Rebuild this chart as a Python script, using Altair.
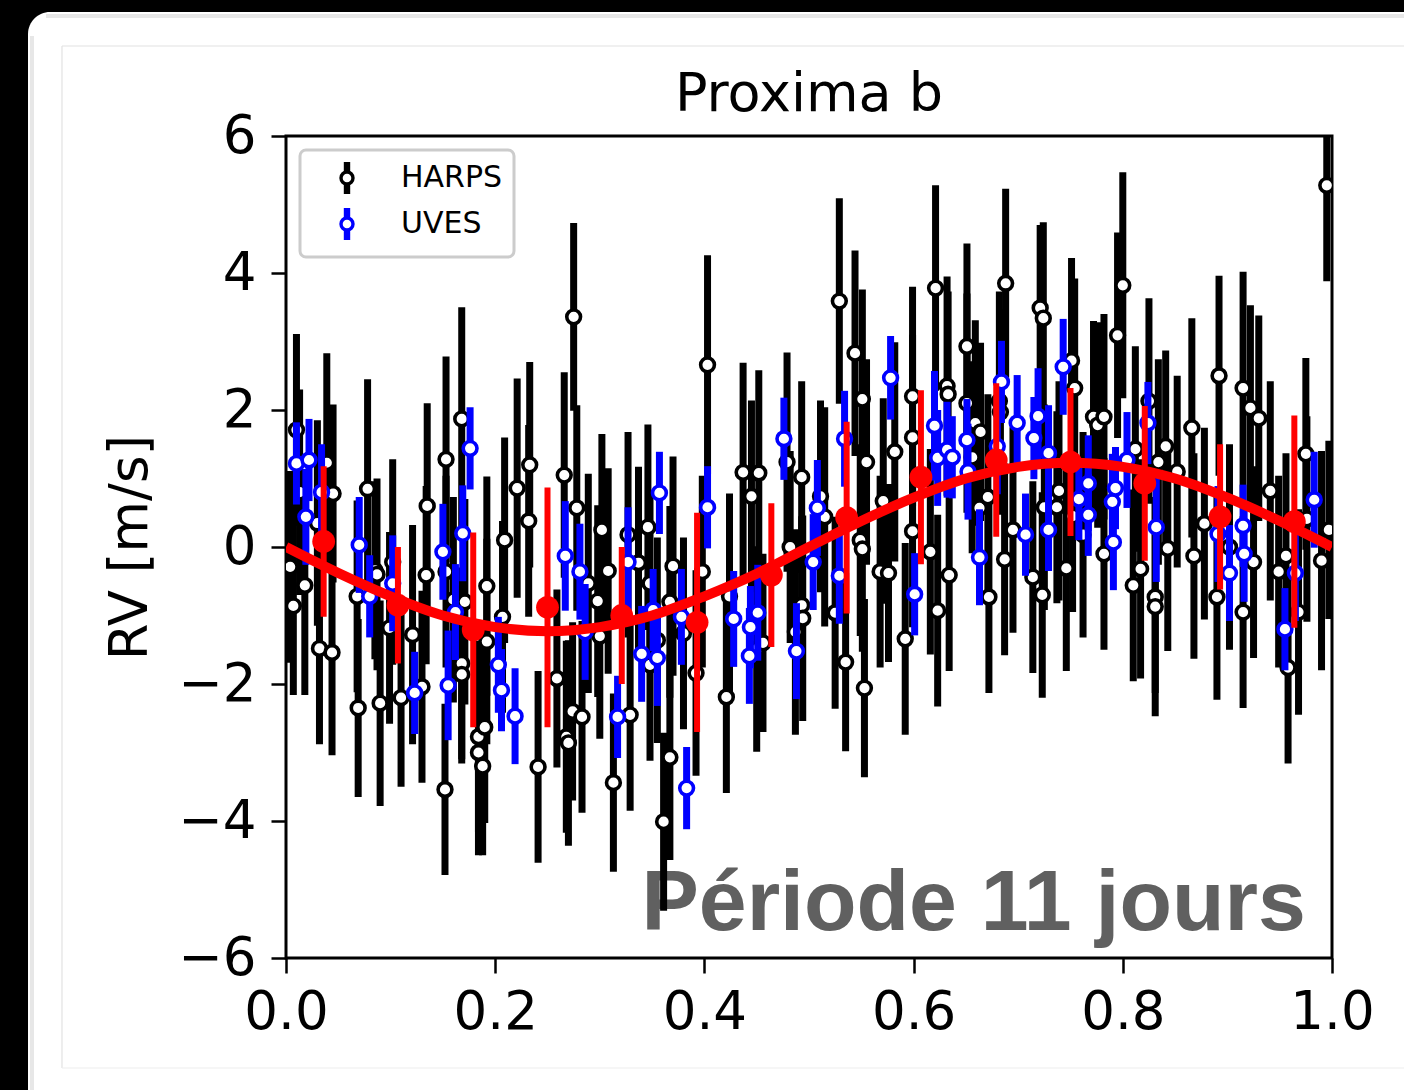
import altair as alt
import pandas as pd

# ---------------- data ----------------
harps_phase = [0.004, 0.007, 0.010, 0.013, 0.018, 0.030, 0.032, 0.039, 0.044, 0.045,
               0.068, 0.069, 0.078, 0.085, 0.087, 0.090, 0.099, 0.102, 0.110, 0.121,
               0.130, 0.134, 0.135, 0.152, 0.153, 0.153, 0.160, 0.168, 0.168, 0.168,
               0.171, 0.184, 0.184, 0.188, 0.190, 0.192, 0.192, 0.207, 0.209, 0.221,
               0.232, 0.233, 0.241, 0.259, 0.266, 0.268, 0.270, 0.274, 0.275, 0.278,
               0.283, 0.289, 0.298, 0.300, 0.302, 0.308, 0.313, 0.327, 0.329, 0.337,
               0.346, 0.348, 0.348, 0.355, 0.361, 0.367, 0.367, 0.370, 0.380, 0.392,
               0.398, 0.403, 0.421, 0.424, 0.437, 0.445, 0.450, 0.452, 0.456, 0.479,
               0.482, 0.487, 0.493, 0.493, 0.494, 0.511, 0.515, 0.525, 0.529, 0.535,
               0.544, 0.549, 0.551, 0.551, 0.553, 0.555, 0.568, 0.571, 0.576, 0.582,
               0.592, 0.599, 0.599, 0.599, 0.616, 0.621, 0.623, 0.632, 0.633, 0.634,
               0.651, 0.651, 0.656, 0.659, 0.663, 0.664, 0.671, 0.672, 0.682, 0.683,
               0.687, 0.688, 0.695, 0.714, 0.721, 0.723, 0.724, 0.725, 0.737, 0.739,
               0.746, 0.751, 0.752, 0.754, 0.762, 0.772, 0.776, 0.782, 0.782, 0.795,
               0.800, 0.810, 0.812, 0.817, 0.825, 0.831, 0.831, 0.834, 0.841, 0.843,
               0.852, 0.866, 0.868, 0.878, 0.890, 0.892, 0.902, 0.915, 0.915, 0.922,
               0.925, 0.930, 0.941, 0.949, 0.956, 0.958, 0.968, 0.975, 0.976, 0.990,
               0.995, 0.997]
harps_rv = [-0.29, -0.86, 1.71, 0.80, -0.56, 0.35, -1.48, 1.23, -1.54, 0.78,
            -0.72, -2.35, 0.85, -0.34, -0.40, -2.28, -1.18, -0.22, -2.20, -1.28,
            -2.04, -0.41, 0.60, -3.54, 1.28, -0.36, -0.77, 1.87, -1.70, -1.86,
            -0.80, -2.77, -3.00, -3.20, -2.63, -0.57, -1.38, -1.02, 0.10, 0.86,
            0.38, 1.20, -3.21, -1.92, 1.05, -2.77, -2.86, -2.40, 3.36, 0.57,
            -2.48, -0.53, -0.79, -1.30, 0.25, -0.35, -3.44, 0.18, -2.45, -0.23,
            0.29, -0.53, -1.72, -1.36, -4.01, -0.80, -3.07, -0.28, -1.26, -1.84,
            -0.36, 2.66, -2.19, -0.72, 1.09, 0.74, -1.49, 1.08, -1.40, 1.24,
            0.00, -1.24, 1.02, -0.85, -1.04, 0.74, 0.44, -0.96, 3.59, -1.68,
            2.83, 0.10, 2.16, -0.03, -2.06, 1.24, -0.36, 0.67, -0.38, 1.39,
            -1.34, 2.20, 1.60, 0.23, -0.07, 3.78, -0.93, 2.35, 2.23, -0.41,
            2.93, 2.10, 1.31, 1.81, 0.57, 1.68, 0.73, -0.73, 2.13, 1.97,
            -0.18, 3.85, 0.25, -0.44, 3.49, -0.70, 3.34, 0.58, 0.58, 0.82,
            -0.31, 2.72, 0.45, 2.32, 0.18, 1.90, 1.78, 1.90, -0.10, 3.09,
            3.82, -0.56, 1.43, -0.32, 2.13, -0.73, -0.87, 1.24, 1.47, -0.02,
            1.10, 1.74, -0.13, 0.34, -0.73, 2.50, 0.00, 2.32, -0.95, 2.03,
            -0.22, 1.88, 0.82, -0.36, -0.13, -1.76, -0.95, 1.36, 0.41, -0.20,
            5.28, 0.25]
harps_err = [1.4, 1.3, 1.4, 1.5, 1.6, 1.5, 1.4, 1.6, 1.5, 1.3,
             1.4, 1.3, 1.6, 1.3, 1.4, 1.5, 1.4, 1.5, 1.3, 1.6,
             1.4, 1.3, 1.5, 1.25, 1.5, 1.4, 1.5, 1.63, 1.4, 1.3,
             1.5, 1.4, 1.5, 1.3, 1.4, 1.6, 1.5, 1.4, 1.5, 1.6,
             1.4, 1.5, 1.4, 1.3, 1.5, 1.4, 1.5, 1.3, 1.37, 1.5,
             1.4, 1.6, 1.4, 1.5, 1.4, 1.5, 1.3, 1.5, 1.4, 1.4,
             1.5, 1.3, 1.4, 1.5, 1.3, 1.4, 1.5, 1.6, 1.4, 1.5,
             1.4, 1.6, 1.4, 1.5, 1.6, 1.4, 1.5, 1.5, 1.3, 1.6,
             1.4, 1.5, 1.4, 1.3, 1.5, 1.4, 1.6, 1.4, 1.5, 1.3,
             1.5, 1.4, 1.6, 1.5, 1.3, 1.5, 1.4, 1.5, 1.3, 1.6,
             1.4, 1.6, 1.5, 1.4, 1.5, 1.5, 1.4, 1.6, 1.5, 1.4,
             1.5, 1.6, 1.4, 1.5, 1.4, 1.3, 1.5, 1.4, 1.6, 1.5,
             1.4, 1.38, 1.5, 1.4, 1.21, 1.5, 1.4, 1.5, 1.4, 1.6,
             1.5, 1.5, 1.4, 1.6, 1.5, 1.4, 1.5, 1.5, 1.4, 1.5,
             1.65, 1.4, 1.5, 1.6, 1.5, 1.4, 1.6, 1.5, 1.4, 1.5,
             1.4, 1.6, 1.5, 1.4, 1.5, 1.46, 1.5, 1.7, 1.4, 1.5,
             1.4, 1.5, 1.6, 1.4, 1.5, 1.4, 1.5, 1.4, 1.5, 1.6,
             1.4, 1.3]

uves_phase = [0.010, 0.019, 0.022, 0.034, 0.070, 0.080, 0.102, 0.123, 0.150, 0.155,
              0.162, 0.169, 0.176, 0.203, 0.206, 0.219, 0.267, 0.281, 0.286, 0.317,
              0.327, 0.340, 0.351, 0.355, 0.357, 0.378, 0.383, 0.403, 0.428, 0.443,
              0.444, 0.451, 0.476, 0.488, 0.504, 0.508, 0.529, 0.534, 0.578, 0.601,
              0.620, 0.623, 0.632, 0.637, 0.651, 0.652, 0.663, 0.680, 0.684, 0.699,
              0.707, 0.715, 0.719, 0.729, 0.729, 0.743, 0.758, 0.767, 0.767, 0.790,
              0.791, 0.793, 0.804, 0.824, 0.832, 0.891, 0.902, 0.915, 0.916, 0.955,
              0.965, 0.983]
uves_rv = [1.22, 0.44, 1.27, 0.80, 0.03, -0.72, -0.53, -2.13, -0.07, -2.02,
           -0.95, 0.20, 1.44, -1.72, -2.09, -2.47, -0.13, -0.36, -1.24, -2.48,
           -0.22, -1.56, -0.92, -1.62, 0.79, -1.02, -3.52, 0.58, -1.05, -1.59,
           -1.17, -0.96, 1.58, -1.52, -0.22, 0.57, -0.42, 1.58, 2.47, -0.69,
           1.77, 1.30, 1.42, 1.31, 1.56, 1.10, -0.15, 1.47, 2.41, 1.81,
           0.18, 1.59, 1.91, 1.37, 0.25, 2.63, 0.70, 0.93, 0.47, 0.66,
           0.07, 0.86, 1.27, 1.81, 0.29, 0.19, -0.38, 0.31, -0.10, -1.20,
           -0.38, 0.69]
uves_err = [0.6, 0.7, 0.6, 0.7, 0.7, 0.6, 0.7, 0.6, 0.7, 0.8,
            0.7, 0.7, 0.6, 0.7, 0.6, 0.7, 0.8, 0.7, 0.7, 0.6,
            0.8, 0.7, 0.6, 0.7, 0.6, 0.7, 0.6, 0.6, 0.7, 0.7,
            0.6, 0.7, 0.6, 0.7, 0.7, 0.7, 0.7, 0.7, 0.61, 0.6,
            0.8, 0.7, 0.7, 0.6, 0.6, 0.7, 0.7, 0.7, 0.6, 0.7,
            0.6, 0.6, 0.7, 0.7, 0.6, 0.7, 0.6, 0.7, 0.6, 0.7,
            0.7, 0.6, 0.7, 0.6, 0.8, 0.7, 0.7, 0.6, 0.7, 0.6,
            0.7, 0.7]

bin_phase = [0.036, 0.107, 0.179, 0.250, 0.321, 0.393, 0.464,
             0.536, 0.607, 0.679, 0.750, 0.821, 0.893, 0.964]
bin_rv = [0.08, -0.85, -1.21, -0.88, -1.00, -1.10, -0.41,
          0.43, 1.02, 1.27, 1.24, 0.93, 0.44, 0.37]
bin_err = [1.10, 0.85, 1.42, 1.75, 1.00, 1.60, 1.05,
           1.40, 1.27, 1.12, 1.08, 1.13, 1.06, 1.55]

model_phase = [0.00, 0.05, 0.10, 0.15, 0.20, 0.25, 0.30, 0.35, 0.40, 0.45, 0.50,
               0.55, 0.60, 0.65, 0.70, 0.75, 0.80, 0.85, 0.90, 0.95, 1.00]
model_rv = [0.00, -0.38, -0.72, -1.00, -1.17, -1.23, -1.17, -1.00, -0.72, -0.39, 0.00,
            0.38, 0.72, 1.00, 1.17, 1.23, 1.17, 1.00, 0.72, 0.38, 0.00]

x_ticks = [0.0, 0.2, 0.4, 0.6, 0.8, 1.0]
y_ticks = [-6, -4, -2, 0, 2, 4, 6]
instruments = ["HARPS", "UVES"]
title_text = "Proxima b"
y_title = "RV [m/s]"
note_x = [0.975]
note_y = [-5.59]
note_text = ["Période 11 jours"]

# ---------------- tables ----------------
harps = pd.DataFrame({"phase": harps_phase, "rv": harps_rv, "err": harps_err})
harps["lo"] = harps.rv - harps.err
harps["hi"] = harps.rv + harps.err
harps["inst"] = instruments[0]

uves = pd.DataFrame({"phase": uves_phase, "rv": uves_rv, "err": uves_err})
uves["lo"] = uves.rv - uves.err
uves["hi"] = uves.rv + uves.err
uves["inst"] = instruments[1]

bins = pd.DataFrame({"phase": bin_phase, "rv": bin_rv, "err": bin_err})
bins["lo"] = bins.rv - bins.err
bins["hi"] = bins.rv + bins.err

model = pd.DataFrame({"phase": model_phase, "rv": model_rv})
note = pd.DataFrame({"phase": note_x, "rv": note_y, "label": note_text})
one = pd.DataFrame({"k": [0]})

FONT = "DejaVu Sans"
xscale = alt.Scale(domain=[0, 1], nice=False, zero=False)
yscale = alt.Scale(domain=[-6, 6], nice=False, zero=False)
color_scale = alt.Scale(domain=instruments, range=["#000000", "#0000ff"])

x_axis = alt.Axis(values=x_ticks, format=".1f", title="", grid=False,
                  domain=False, tickSize=15, tickWidth=2.5, tickColor="black",
                  labelPadding=13, labelFontSize=53, labelFont=FONT,
                  labelColor="black", labelFlush=False)
y_axis = alt.Axis(values=y_ticks, format="d", title=y_title, grid=False,
                  domain=False, tickSize=15, tickWidth=2.5, tickColor="black",
                  labelPadding=15, labelFontSize=53, labelFont=FONT,
                  labelColor="black", labelFlush=False,
                  titleFontSize=53, titleFont=FONT, titleFontWeight="normal",
                  titleColor="black", titlePadding=20)


def X():
    return alt.X("phase:Q", scale=xscale, axis=x_axis)


def Y(field="rv"):
    return alt.Y(field + ":Q", scale=yscale, axis=y_axis)


# ---------------- page decorations (outside the plot area) ----------------
def box(x, x2, y, y2, **kw):
    return alt.Chart(one).mark_rect(**kw).encode(
        x=alt.value(x), x2=alt.value(x2), y=alt.value(y), y2=alt.value(y2))


def line(x, x2, y, y2, **kw):
    return alt.Chart(one).mark_rule(**kw).encode(
        x=alt.value(x), x2=alt.value(x2), y=alt.value(y), y2=alt.value(y2))


deco = [
    box(-286, 1118, -136, -124, fill="black"),
    box(-286, -258, -136, 954, fill="black"),
    box(-286, -228, -136, -78, fill="black"),
    box(-258, -170, -124, -36, fill="white", cornerRadius=22),
    line(-240, 1118, -120, -120, color="#d0d0d0", strokeWidth=4, opacity=0.5),
    line(-254, -254, -100, 954, color="#d0d0d0", strokeWidth=4, opacity=0.5),
    line(-224, 1118, -90, -90, color="#e2e2e2", strokeWidth=1.2),
    line(-224, -224, -90, 932, color="#e2e2e2", strokeWidth=1.2),
    line(-224, 1118, 932, 932, color="#eeeeee", strokeWidth=1.2),
]

# ---------------- data layers ----------------
note_layer = alt.Chart(note).mark_text(
    align="right", baseline="alphabetic", font="Liberation Sans", fontWeight="bold",
    fontSize=86, color="#606060"
).encode(x=X(), y=Y(), text="label:N")

harps_bars = alt.Chart(harps).mark_rule(color="black", strokeWidth=7, clip=True).encode(
    x=X(), y=Y("lo"), y2="hi:Q")
harps_pts = alt.Chart(harps).mark_point(
    shape="circle", filled=False, fill="white", fillOpacity=1, opacity=1,
    size=190, strokeWidth=3.6, clip=True
).encode(
    x=X(), y=Y(),
    color=alt.Color("inst:N", scale=color_scale, legend=alt.Legend(
        title=None, orient="top-left", offset=14, padding=11,
        strokeColor="#cccccc", fillColor="white", cornerRadius=6,
        labelFontSize=30, labelFont=FONT, labelColor="black",
        symbolType=("M-0.1,-0.95 L0.1,-0.95 L0.1,-0.5 L-0.1,-0.5 Z "
                    "M-0.1,0.5 L0.1,0.5 L0.1,0.95 L-0.1,0.95 Z "
                    "M-0.4,0 A0.4,0.4 0 1,1 0.4,0 A0.4,0.4 0 1,1 -0.4,0 Z"),
        symbolSize=900, symbolStrokeWidth=3.4, symbolOffset=19,
        labelOffset=37, rowPadding=2)))
uves_bars = alt.Chart(uves).mark_rule(color="#0000ff", strokeWidth=7, clip=True).encode(
    x=X(), y=Y("lo"), y2="hi:Q")
uves_pts = alt.Chart(uves).mark_point(
    shape="circle", filled=False, fill="white", fillOpacity=1, opacity=1,
    size=190, strokeWidth=3.6, clip=True
).encode(x=X(), y=Y(), color=alt.Color("inst:N", scale=color_scale))

model_line = alt.Chart(model).mark_line(
    color="#ff0000", strokeWidth=10, interpolate="monotone", clip=True
).encode(x=X(), y=Y())
bin_bars = alt.Chart(bins).mark_rule(color="#ff0000", strokeWidth=6, clip=True).encode(
    x=X(), y=Y("lo"), y2="hi:Q")
bin_pts = alt.Chart(bins).mark_point(
    shape="circle", filled=True, color="#ff0000", size=520, opacity=1, clip=True
).encode(x=X(), y=Y())

chart = alt.layer(
    *deco, note_layer, harps_bars, harps_pts,
    uves_bars, uves_pts, model_line, bin_bars, bin_pts
).properties(
    width=1046, height=822,
    title=alt.TitleParams(title_text, fontSize=54, font=FONT, fontWeight="normal",
                          color="black", offset=14, anchor="middle", dy=136),
    autosize=alt.AutoSizeParams(type="none"),
    padding={"left": 286, "top": 136, "right": 72, "bottom": 132},
    background="white",
).configure_view(
    stroke="black", strokeWidth=3
).configure_legend(
    strokeWidth=3
)

chart.save("out.html", embed_options={"renderer": "svg", "actions": False})
